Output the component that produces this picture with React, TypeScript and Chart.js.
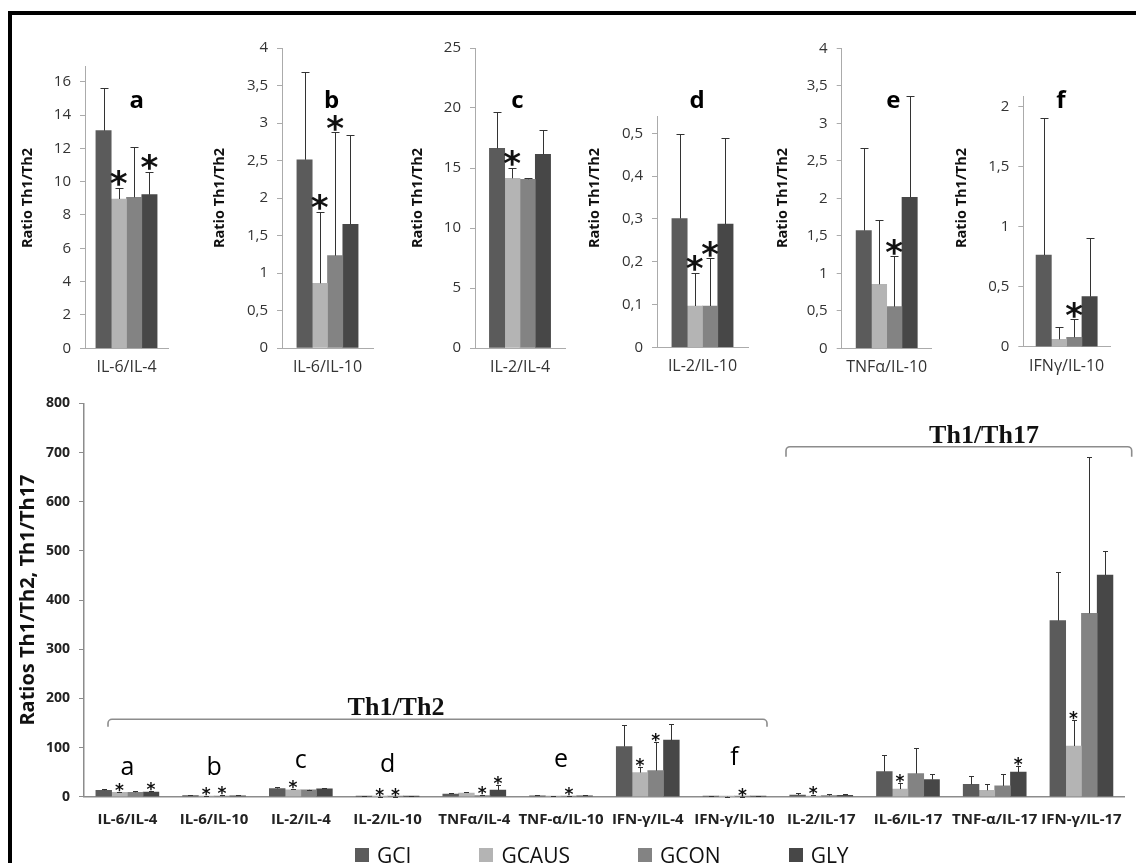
import { useEffect, useRef } from 'react';
import { Chart, registerables } from 'chart.js';

Chart.register(...registerables);

// ---------- data ----------
const groups = ['GCI', 'GCAUS', 'GCON', 'GLY'];
const groupColors = ['#5b5b5b', '#b4b4b4', '#838383', '#474747'];

const categories = [
  'IL-6/IL-4', 'IL-6/IL-10', 'IL-2/IL-4', 'IL-2/IL-10', 'TNFα/IL-4', 'TNF-α/IL-10',
  'IFN-γ/IL-4', 'IFN-γ/IL-10', 'IL-2/IL-17', 'IL-6/IL-17', 'TNF-α/IL-17', 'IFN-γ/IL-17',
];

const gciMean = [13.06, 2.51, 16.64, 0.301, 5.5, 1.57, 102, 0.764, 3.4, 51, 25, 358];
const gciSd = [2.58, 1.17, 3.06, 0.197, 2.5, 1.1, 43, 1.14, 3.3, 34, 17, 100];
const gcausMean = [8.96, 0.862, 14.14, 0.0965, 7.5, 0.853, 49, 0.061, 1.5, 15.5, 13, 103];
const gcausSd = [0.68, 0.955, 0.89, 0.078, 2.5, 0.857, 12, 0.106, 1.5, 11.5, 12, 54];
const gconMean = [9.06, 1.231, 14.06, 0.0965, 2.5, 0.555, 53, 0.078, 2.2, 47, 22, 373];
const gconSd = [3.04, 1.645, 0.08, 0.1115, 1.2, 0.675, 59, 0.15, 3, 53, 25, 318];
const glyMean = [9.22, 1.649, 16.14, 0.288, 13.4, 2.013, 115, 0.417, 3, 35, 50, 451];
const glySd = [1.38, 1.191, 2.06, 0.202, 9.6, 1.355, 32, 0.486, 2, 12, 13, 48];

const gciSig = [0, 0, 0, 0, 0, 0, 0, 0, 0, 0, 0, 0];
const gcausSig = [1, 1, 1, 1, 0, 0, 1, 0, 1, 1, 0, 1];
const gconSig = [0, 1, 0, 1, 1, 1, 1, 1, 0, 0, 0, 0];
const glySig = [1, 0, 0, 0, 1, 0, 0, 0, 0, 0, 1, 0];

const seriesMeans = [gciMean, gcausMean, gconMean, glyMean];
const seriesSds = [gciSd, gcausSd, gconSd, glySd];
const seriesSig = [gciSig, gcausSig, gconSig, glySig];

const topPanels = ['a', 'b', 'c', 'd', 'e', 'f'];
const topCategoryIndex = [0, 1, 2, 3, 5, 7];
const topLabels = ['IL-6/IL-4', 'IL-6/IL-10', 'IL-2/IL-4', 'IL-2/IL-10', 'TNFα/IL-10', 'IFNγ/IL-10'];
const topAxisMax = [16.9, 4, 25, 0.539, 4, 2.083];
const topAxisStep = [2, 0.5, 5, 0.1, 0.5, 0.5];
const TOP_Y_TITLE = 'Ratio Th1/Th2';

const bottomAxisMax = 800;
const bottomAxisStep = 100;
const BOTTOM_Y_TITLE = 'Ratios Th1/Th2, Th1/Th17';

// ---------- layout ----------
const FONT = '"Open Sans", "DejaVu Sans", sans-serif';
const SERIF = '"Liberation Serif", "DejaVu Serif", serif';
const TOP_AXIS = '#ababab';
const BOTTOM_AXIS = '#8c8c8c';

const topAreas = [
  { l: 85, r: 168, t: 66.7, b: 348.3 },
  { l: 282, r: 373, t: 48, b: 348 },
  { l: 475, r: 565, t: 48, b: 348 },
  { l: 657, r: 748, t: 116.7, b: 347.3 },
  { l: 841.7, r: 931.7, t: 48.3, b: 348.3 },
  { l: 1023.3, r: 1110, t: 96.7, b: 346.7 },
];
const topTitleX = [28, 220, 418, 595, 783, 962];
const TOP_TITLE_Y = 198;
const topLetterX = [136.7, 331.7, 517.5, 697, 893.3, 1060.8];
const TOP_LETTER_BASE = 107.5;
const TOP_T = 16;
const TOP_B = 386;

const BOT = { left: 12, right: 1136, top: 386, bottom: 846, al: 84, ar: 1134, at: 396.7, ab: 796.7 };
const bottomLetterLift = [21.7, 21.7, 28.4, 25, 29.4, 31.7];
const brackets = [
  { text: 'Th1/Th2', x1: 108, x2: 767, y: 719.3, drop: 7.4, tx: 396, ty: 715 },
  { text: 'Th1/Th17', x1: 786, x2: 1131.7, y: 446.7, drop: 10, tx: 984, ty: 443.3 },
];

function topGeom(k: number) {
  const a = topAreas[k];
  const left = Math.round(topTitleX[k] - 14);
  const right = Math.round(a.r + 12);
  return { left, top: TOP_T, width: right - left, height: TOP_B - TOP_T, right, a };
}

function drawStar(ctx: CanvasRenderingContext2D, cx: number, cy: number, size: number) {
  ctx.save();
  ctx.font = `bold 100px "DejaVu Sans"`;
  let m = ctx.measureText('*');
  const h = m.actualBoundingBoxAscent + m.actualBoundingBoxDescent;
  const fs = (size / h) * 100;
  ctx.font = `bold ${fs}px "DejaVu Sans"`;
  m = ctx.measureText('*');
  ctx.textAlign = 'left';
  ctx.textBaseline = 'alphabetic';
  const x0 = cx - (m.actualBoundingBoxRight - m.actualBoundingBoxLeft) / 2;
  const y0 = cy + (m.actualBoundingBoxAscent - m.actualBoundingBoxDescent) / 2;
  ctx.fillStyle = '#111';
  ctx.fillText('*', x0, y0);
  ctx.restore();
}

function errorBars(cap: number, starSize: number, starGap: number) {
  return {
    id: 'errorBars',
    afterDatasetsDraw(chart: any) {
      const ctx = chart.ctx;
      const y = chart.scales.y;
      chart.data.datasets.forEach((ds: any, i: number) => {
        const meta = chart.getDatasetMeta(i);
        meta.data.forEach((bar: any, j: number) => {
          const top = y.getPixelForValue(ds.data[j] + ds.err[j]);
          const x = Math.round(bar.x) + 0.5;
          const ty = Math.round(top) + 0.5;
          ctx.save();
          ctx.strokeStyle = '#333';
          ctx.lineWidth = 1;
          ctx.beginPath();
          ctx.moveTo(x, bar.y);
          ctx.lineTo(x, ty);
          ctx.moveTo(x - cap, ty);
          ctx.lineTo(x + cap, ty);
          ctx.stroke();
          ctx.restore();
          if (ds.sig[j]) drawStar(ctx, bar.x, top - starGap, starSize);
        });
      });
    },
  };
}

const commaTick = (v: any) => String(Math.round(Number(v) * 1000) / 1000).replace('.', ',');

function makeDatasets(indices: number[], thickness: number) {
  return groups.map((g, s) => ({
    label: g,
    data: indices.map((i) => seriesMeans[s][i]),
    err: indices.map((i) => seriesSds[s][i]),
    sig: indices.map((i) => seriesSig[s][i]),
    backgroundColor: groupColors[s],
    borderWidth: 0,
    barThickness: thickness,
  }));
}

function topConfig(k: number): any {
  const g = topGeom(k);
  const a = g.a;
  const idx = topCategoryIndex[k];
  const annotations = {
    id: 'topText',
    afterDraw(chart: any) {
      const ctx = chart.ctx;
      ctx.save();
      ctx.translate(topTitleX[k] - g.left, TOP_TITLE_Y - g.top);
      ctx.rotate(-Math.PI / 2);
      ctx.font = `bold 14.5px ${FONT}`;
      ctx.textAlign = 'center';
      ctx.textBaseline = 'middle';
      ctx.fillStyle = '#111';
      ctx.fillText(TOP_Y_TITLE, 0, 0);
      ctx.restore();
      ctx.save();
      ctx.font = `bold 24px ${FONT}`;
      ctx.textAlign = 'center';
      ctx.textBaseline = 'alphabetic';
      ctx.fillStyle = '#000';
      ctx.fillText(topPanels[k], topLetterX[k] - g.left, TOP_LETTER_BASE - g.top);
      ctx.restore();
    },
  };
  return {
    type: 'bar',
    data: { labels: [topLabels[k]], datasets: makeDatasets([idx], 15.3) },
    options: {
      animation: false,
      responsive: false,
      maintainAspectRatio: false,
      layout: { padding: { top: a.t - g.top, right: g.right - a.r, left: 0, bottom: 0 } },
      plugins: { legend: { display: false }, tooltip: { enabled: false } },
      scales: {
        x: {
          grid: { display: false, drawTicks: false },
          border: { display: true, color: TOP_AXIS, width: 1 },
          ticks: { font: { family: FONT, size: 16 }, color: '#333', padding: 10, maxRotation: 0, minRotation: 0, autoSkip: false },
          afterFit: (s: any) => { s.height = TOP_B - a.b; },
        },
        y: {
          min: 0,
          max: topAxisMax[k],
          grid: { drawOnChartArea: false, drawTicks: true, tickLength: 5, color: TOP_AXIS },
          border: { display: true, color: TOP_AXIS, width: 1 },
          ticks: { stepSize: topAxisStep[k], includeBounds: false, font: { family: FONT, size: 15 }, color: '#333', padding: 9, callback: commaTick },
          afterFit: (s: any) => { s.width = a.l - g.left; },
        },
      },
    },
    plugins: [errorBars(4, 16, 9.5), annotations],
  };
}

function bottomConfig(): any {
  const annotations = {
    id: 'bottomText',
    afterDraw(chart: any) {
      const ctx = chart.ctx;
      const xs = chart.scales.x;
      const ys = chart.scales.y;
      ctx.save();
      ctx.font = `25px ${FONT}`;
      ctx.textAlign = 'center';
      ctx.textBaseline = 'alphabetic';
      ctx.fillStyle = '#000';
      topPanels.forEach((p, k) => {
        ctx.fillText(p, xs.getPixelForValue(topCategoryIndex[k]), ys.getPixelForValue(0) - bottomLetterLift[k]);
      });
      ctx.restore();
      brackets.forEach((b) => {
        const x1 = b.x1 - BOT.left;
        const x2 = b.x2 - BOT.left;
        const y = b.y - BOT.top;
        const ye = y + b.drop;
        const r = 4;
        ctx.save();
        ctx.strokeStyle = '#8c8c8c';
        ctx.lineWidth = 1.6;
        ctx.beginPath();
        ctx.moveTo(x1, ye);
        ctx.lineTo(x1, y + r);
        ctx.arcTo(x1, y, x1 + r, y, r);
        ctx.lineTo(x2 - r, y);
        ctx.arcTo(x2, y, x2, y + r, r);
        ctx.lineTo(x2, ye);
        ctx.stroke();
        ctx.font = `bold 26px ${SERIF}`;
        ctx.textAlign = 'center';
        ctx.textBaseline = 'alphabetic';
        ctx.fillStyle = '#111';
        ctx.fillText(b.text, b.tx - BOT.left, b.ty - BOT.top);
        ctx.restore();
      });
    },
  };
  return {
    type: 'bar',
    data: { labels: categories, datasets: makeDatasets(categories.map((_, i) => i), 15.75) },
    options: {
      animation: false,
      responsive: false,
      maintainAspectRatio: false,
      layout: { padding: { top: BOT.at - BOT.top, right: BOT.right - BOT.ar, left: 0, bottom: 0 } },
      plugins: { legend: { display: false }, tooltip: { enabled: false } },
      scales: {
        x: {
          grid: { display: false, drawTicks: false },
          border: { display: true, color: BOTTOM_AXIS, width: 1.5 },
          ticks: { font: { family: FONT, size: 15, weight: 'bold' }, color: '#222', padding: 14.3, maxRotation: 0, minRotation: 0, autoSkip: false },
          afterFit: (s: any) => { s.height = BOT.bottom - BOT.ab; },
        },
        y: {
          min: 0,
          max: bottomAxisMax,
          grid: { drawOnChartArea: false, drawTicks: true, tickLength: 5, color: BOTTOM_AXIS },
          border: { display: true, color: BOTTOM_AXIS, width: 1.5 },
          ticks: { stepSize: bottomAxisStep, font: { family: FONT, size: 14, weight: 'bold' }, color: '#222', padding: 9 },
          title: { display: true, text: BOTTOM_Y_TITLE, font: { family: FONT, size: 20, weight: 'bold' }, color: '#111', padding: { top: 4, bottom: 0 } },
          afterFit: (s: any) => { s.width = BOT.al - BOT.left; },
        },
      },
    },
    plugins: [errorBars(2.5, 8, 4.5), annotations],
  };
}

export default function App() {
  const refs = useRef<(HTMLCanvasElement | null)[]>([]);

  useEffect(() => {
    const charts: Chart[] = [];
    topPanels.forEach((_, k) => {
      const c = refs.current[k];
      if (c) charts.push(new Chart(c, topConfig(k)));
    });
    const b = refs.current[6];
    if (b) charts.push(new Chart(b, bottomConfig()));
    return () => charts.forEach((c) => c.destroy());
  }, []);

  return (
    <div style={{ position: 'absolute', left: 0, top: 0, width: 1136, height: 863, overflow: 'hidden', background: '#fff' }}>
      <div style={{ position: 'absolute', left: 8, top: 11, width: 1300, height: 1000, borderTop: '4px solid #000', borderLeft: '4px solid #000' }} />
      {topPanels.map((p, k) => {
        const g = topGeom(k);
        return (
          <canvas
            key={p}
            ref={(el) => { refs.current[k] = el; }}
            width={g.width}
            height={g.height}
            style={{ position: 'absolute', left: g.left, top: g.top, width: g.width, height: g.height }}
          />
        );
      })}
      <canvas
        ref={(el) => { refs.current[6] = el; }}
        width={BOT.right - BOT.left}
        height={BOT.bottom - BOT.top}
        style={{ position: 'absolute', left: BOT.left, top: BOT.top, width: BOT.right - BOT.left, height: BOT.bottom - BOT.top }}
      />
      <div style={{ position: 'absolute', left: 355, top: 844.5, display: 'flex', alignItems: 'center', gap: 68, fontFamily: FONT, fontSize: 21, lineHeight: '21px', color: '#111' }}>
        {groups.map((g, s) => (
          <div key={g} style={{ display: 'flex', alignItems: 'center' }}>
            <span style={{ display: 'inline-block', width: 14, height: 14, background: groupColors[s], marginRight: 8 }} />
            <span>{g}</span>
          </div>
        ))}
      </div>
    </div>
  );
}
